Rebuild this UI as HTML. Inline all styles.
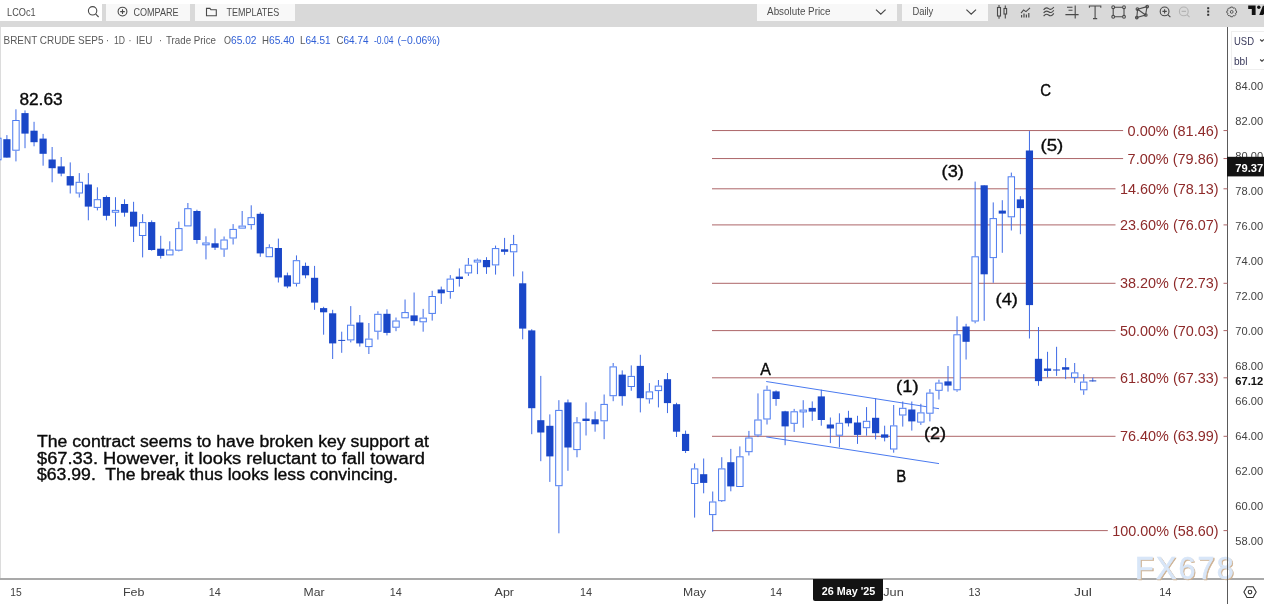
<!DOCTYPE html>
<html><head><meta charset="utf-8"><title>BRENT CRUDE SEP5 chart</title>
<style>
html,body{margin:0;padding:0;background:#fff;}
body{width:1264px;height:604px;position:relative;overflow:hidden;font-family:"Liberation Sans",sans-serif;}
.abs{position:absolute;}
#tb{left:0;top:4px;width:1264px;height:22.6px;background:#d9d9d9;}
.btn{position:absolute;top:4px;height:17px;background:#f8f8f8;}
.t{position:absolute;white-space:nowrap;color:#4d4d4d;font-size:10px;line-height:12px;}
.tn{position:absolute;white-space:nowrap;color:#4d4d4d;font-size:9.5px;line-height:12px;letter-spacing:-0.4px;}
.info{position:absolute;left:3.5px;top:34px;font-size:10px;line-height:12px;color:#5a5a5a;white-space:pre;}
.info b{font-weight:normal;color:#2f5fd6;}
svg{position:absolute;left:0;top:0;}
</style></head><body>
<div class="abs" id="tb"></div>
<div class="btn" style="left:0;width:102px;background:#fff;"></div>
<div class="btn" style="left:106px;width:84px;"></div>
<div class="btn" style="left:194.5px;width:100px;"></div>
<div class="btn" style="left:757px;width:139.9px;"></div>
<div class="btn" style="left:902px;width:86.2px;"></div>
<div class="abs" style="left:1231px;top:31px;width:40px;height:39px;border:1px solid #efefef;box-sizing:border-box;"></div>

<svg width="1264" height="604" viewBox="0 0 1264 604">
<g fill="none" stroke="#4a4a4a" stroke-width="1.1">
<circle cx="92.6" cy="10.8" r="4.2"/><path d="M95.8 14.2L98.6 17"/>
<circle cx="122.5" cy="11.6" r="4.4"/><path d="M120.2 11.6h4.6M122.5 9.3v4.6"/>
<path d="M206.5 8.4h3.4l1 1.3h5.400v6.100h-9.800z"/>
<path d="M876 9.6l4.8 4.6l4.8-4.6M966.4 9.6l4.8 4.6l4.8-4.6" stroke-width="1.2"/>
<rect x="997.5" y="7.5" width="3" height="8.5"/><path d="M999 5v2.5M999 16v2.7"/>
<rect x="1004" y="8.5" width="2.6" height="5.5"/><path d="M1005.3 5.4v3M1005.3 14v4.6"/>
<path d="M1021 13.2l2.6-3.2l2.4 1.6l4-3.8"/><path d="M1021.6 15v2.6M1024 13.6v4M1026.4 14.6v3M1028.8 13v4.6" stroke-width="1.2"/>
<path d="M1043.6 9.8c1.8-2.4 3.4-2.4 5 -1.2s3.2 1.2 5.2-1.6M1043.6 13c1.8-2.4 3.4-2.4 5-1.2s3.2 1.2 5.2-1.6M1043.6 16.2c1.8-2.4 3.4-2.4 5-1.2s3.2 1.2 5.2-1.6"/>
<path d="M1067 7.2h5.5M1068.5 10.2h4M1065.4 14.6h13.2M1075.2 5.4v13.2"/>
<path d="M1089.4 7.800v-1.800h11.400v1.800M1095.1 6v12.600M1093 18.600h4.200" stroke-width="1.100"/>
<path d="M1114.5 7.2h8.2M1114.5 16.8h8.2M1113.2 8.6v6.8M1124 8.6v6.8"/>
<circle cx="1113.2" cy="7.2" r="1.4"/><circle cx="1124" cy="7.2" r="1.4"/><circle cx="1113.2" cy="16.8" r="1.4"/><circle cx="1124" cy="16.8" r="1.4"/>
<path d="M1137.6 9.2l9.4-2.6l-1.4 8.4l-8.8 2.6zM1137.6 9.2l8 5.8"/>
<circle cx="1137.4" cy="9" r="1.3"/><circle cx="1147.2" cy="6.6" r="1.3"/><circle cx="1145.8" cy="15" r="1.3"/><circle cx="1136.8" cy="17.6" r="1.3"/>
<circle cx="1164.6" cy="11.4" r="4.4"/><path d="M1167.8 14.6l2.6 2.6M1162.4 11.4h4.4M1164.6 9.2v4.4"/>
<g stroke="#b4b4b4"><circle cx="1183.8" cy="11.4" r="4.4"/><path d="M1187 14.6l2.6 2.6M1181.6 11.4h4.4"/></g>
<circle cx="1231.7" cy="11.9" r="1.4" stroke-width="0.9"/>
<path d="M1230.72 7.05L1232.68 7.05L1232.93 7.94L1233.64 8.23L1234.44 7.77L1235.83 9.16L1235.37 9.96L1235.66 10.67L1236.55 10.92L1236.55 12.88L1235.66 13.13L1235.37 13.84L1235.83 14.64L1234.44 16.03L1233.64 15.57L1232.93 15.86L1232.68 16.75L1230.72 16.75L1230.47 15.86L1229.76 15.57L1228.96 16.03L1227.57 14.64L1228.03 13.84L1227.74 13.13L1226.85 12.88L1226.85 10.92L1227.74 10.67L1228.03 9.96L1227.57 9.16L1228.96 7.77L1229.76 8.23L1230.47 7.94z" stroke-width="0.9" stroke-linejoin="round"/>
</g>
<g fill="#333"><rect x="1207.2" y="7.2" width="2" height="2"/><rect x="1207.2" y="10.5" width="2" height="2"/><rect x="1207.200" y="13.800" width="2" height="2"/></g>
<path d="M1248.2 5.600H1255.6V14.900H1251.8V8.900H1248.2z" fill="#111"/><circle cx="1258.800" cy="7.200" r="1.700" fill="#111"/><path d="M1259.2 14.900L1262.900 5.800H1267L1263.300 14.900z" fill="#111"/>
<path d="M1260.200 39.500l1.800 1.800l1.800-1.800M1260.200 59.500l1.800 1.800l1.800-1.800" fill="none" stroke="#333" stroke-width="1.100"/>

<g font-family="'Liberation Sans',sans-serif" fill="#4d4d4d">
<text x="7.1" y="15.5" font-size="10.5" textLength="28.5" lengthAdjust="spacingAndGlyphs">LCOc1</text>
<text x="133.5" y="15.5" font-size="10.5" textLength="45.1" lengthAdjust="spacingAndGlyphs">COMPARE</text>
<text x="226.6" y="15.5" font-size="10.5" textLength="52.7" lengthAdjust="spacingAndGlyphs">TEMPLATES</text>
<text x="767.1" y="15.4" font-size="10.1" textLength="63.4" lengthAdjust="spacingAndGlyphs">Absolute Price</text>
<text x="912.4" y="15.4" font-size="10.1" textLength="20.9" lengthAdjust="spacingAndGlyphs">Daily</text>
</g>
<g font-family="'Liberation Sans',sans-serif" font-size="10.2">
<text x="3.5" y="44.1" fill="#5a5a5a" textLength="100.0" lengthAdjust="spacingAndGlyphs">BRENT CRUDE SEP5</text>
<text x="106" y="44.1" fill="#5a5a5a" textLength="3" lengthAdjust="spacingAndGlyphs">·</text>
<text x="114" y="44.1" fill="#5a5a5a" textLength="11" lengthAdjust="spacingAndGlyphs">1D</text>
<text x="128.5" y="44.1" fill="#5a5a5a" textLength="3.0" lengthAdjust="spacingAndGlyphs">·</text>
<text x="136" y="44.1" fill="#5a5a5a" textLength="16.5" lengthAdjust="spacingAndGlyphs">IEU</text>
<text x="159" y="44.1" fill="#5a5a5a" textLength="3" lengthAdjust="spacingAndGlyphs">·</text>
<text x="166" y="44.1" fill="#5a5a5a" textLength="50" lengthAdjust="spacingAndGlyphs">Trade Price</text>
<text x="224" y="44.1" fill="#5a5a5a" textLength="7" lengthAdjust="spacingAndGlyphs">O</text>
<text x="231" y="44.1" fill="#2f5fd6" textLength="25.5" lengthAdjust="spacingAndGlyphs">65.02</text>
<text x="262" y="44.1" fill="#5a5a5a" textLength="7" lengthAdjust="spacingAndGlyphs">H</text>
<text x="269" y="44.1" fill="#2f5fd6" textLength="25.5" lengthAdjust="spacingAndGlyphs">65.40</text>
<text x="300" y="44.1" fill="#5a5a5a" textLength="5.5" lengthAdjust="spacingAndGlyphs">L</text>
<text x="305.5" y="44.1" fill="#2f5fd6" textLength="25.0" lengthAdjust="spacingAndGlyphs">64.51</text>
<text x="336.5" y="44.1" fill="#5a5a5a" textLength="7.0" lengthAdjust="spacingAndGlyphs">C</text>
<text x="343.5" y="44.1" fill="#2f5fd6" textLength="25.0" lengthAdjust="spacingAndGlyphs">64.74</text>
<text x="374" y="44.1" fill="#2f5fd6" textLength="19.5" lengthAdjust="spacingAndGlyphs">-0.04</text>
<text x="397.5" y="44.1" fill="#2f5fd6" textLength="42.5" lengthAdjust="spacingAndGlyphs">(−0.06%)</text>
</g>
<g font-family="'Liberation Sans',sans-serif" font-size="11" fill="#3a3a5c"><text x="1234" y="45" textLength="20" lengthAdjust="spacingAndGlyphs">USD</text><text x="1234" y="65" textLength="13.5" lengthAdjust="spacingAndGlyphs">bbl</text></g>
<rect x="0" y="578.1" width="1264" height="1.8" fill="#a0a0a0"/>
<g font-family="'Liberation Sans',sans-serif" font-size="30.500" letter-spacing="2"><text x="1136.3" y="580.200" fill="#cdb090" stroke="#cdb090" stroke-width="0.5" textLength="100.5" lengthAdjust="spacing">FX678</text><text x="1135.1" y="579.300" fill="#d8e6f8" stroke="#d8e6f8" stroke-width="0.6" textLength="100.5" lengthAdjust="spacing">FX678</text></g>
<rect x="0" y="27" width="1" height="551" fill="#dcdcdc"/>
<rect x="1227" y="27" width="1" height="577" fill="#5a5a5a"/>
<g font-family="'Liberation Sans',sans-serif" font-size="14.5" fill="#8e2a2a" text-anchor="end">
<rect x="712" y="130.05" width="411.1" height="1" fill="#ad6669"/>
<rect x="1223.500" y="130.05" width="4" height="1" fill="#ad6669"/>
<text x="1218.6" y="135.5" textLength="91.0" lengthAdjust="spacingAndGlyphs">0.00% (81.46)</text>
<rect x="712" y="158.05" width="411.1" height="1" fill="#ad6669"/>
<rect x="1223.500" y="158.05" width="4" height="1" fill="#ad6669"/>
<text x="1218.6" y="163.5" textLength="91.0" lengthAdjust="spacingAndGlyphs">7.00% (79.86)</text>
<rect x="712" y="188.3" width="403.5" height="1" fill="#ad6669"/>
<rect x="1223.500" y="188.3" width="4" height="1" fill="#ad6669"/>
<text x="1218.6" y="193.7" textLength="98.6" lengthAdjust="spacingAndGlyphs">14.60% (78.13)</text>
<rect x="712" y="224.4" width="403.5" height="1" fill="#ad6669"/>
<rect x="1223.500" y="224.4" width="4" height="1" fill="#ad6669"/>
<text x="1218.6" y="229.8" textLength="98.6" lengthAdjust="spacingAndGlyphs">23.60% (76.07)</text>
<rect x="712" y="282.8" width="403.5" height="1" fill="#ad6669"/>
<rect x="1223.500" y="282.8" width="4" height="1" fill="#ad6669"/>
<text x="1218.6" y="288.2" textLength="98.6" lengthAdjust="spacingAndGlyphs">38.20% (72.73)</text>
<rect x="712" y="330.1" width="403.5" height="1" fill="#ad6669"/>
<rect x="1223.500" y="330.1" width="4" height="1" fill="#ad6669"/>
<text x="1218.6" y="335.5" textLength="98.6" lengthAdjust="spacingAndGlyphs">50.00% (70.03)</text>
<rect x="712" y="377.3" width="403.5" height="1" fill="#ad6669"/>
<rect x="1223.500" y="377.3" width="4" height="1" fill="#ad6669"/>
<text x="1218.6" y="382.7" textLength="98.6" lengthAdjust="spacingAndGlyphs">61.80% (67.33)</text>
<rect x="712" y="435.8" width="403.5" height="1" fill="#ad6669"/>
<rect x="1223.500" y="435.8" width="4" height="1" fill="#ad6669"/>
<text x="1218.6" y="441.2" textLength="98.6" lengthAdjust="spacingAndGlyphs">76.40% (63.99)</text>
<rect x="712" y="530.1" width="395.8" height="1" fill="#ad6669"/>
<rect x="1223.500" y="530.1" width="4" height="1" fill="#ad6669"/>
<text x="1218.6" y="535.5" textLength="106.3" lengthAdjust="spacingAndGlyphs">100.00% (58.60)</text>
</g>
<path d="M766.2 381.5L939 408.7M766.2 436.9L939 463.6" stroke="#4a7af0" stroke-width="1" fill="none"/>
<rect x="-5.35" y="138.2" width="6.4" height="21.6" fill="#fff" stroke="#4a7af0" stroke-width="1"/>
<path d="M6.90 135.1V157.6" stroke="#3f6be6" stroke-width="1"/>
<rect x="3.30" y="139.2" width="7.2" height="18.4" fill="#1a47c8"/>
<path d="M15.95 109.3V120.0" stroke="#3f6be6" stroke-width="1"/>
<path d="M15.95 150.7V161.4" stroke="#3f6be6" stroke-width="1"/>
<rect x="12.75" y="120.5" width="6.4" height="29.7" fill="#fff" stroke="#4a7af0" stroke-width="1"/>
<path d="M25.00 110.4V148.2" stroke="#3f6be6" stroke-width="1"/>
<rect x="21.40" y="113.1" width="7.2" height="20.5" fill="#1a47c8"/>
<path d="M34.05 121.8V146.3" stroke="#3f6be6" stroke-width="1"/>
<rect x="30.45" y="130.7" width="7.2" height="11.5" fill="#1a47c8"/>
<path d="M43.10 133.9V165.7" stroke="#3f6be6" stroke-width="1"/>
<rect x="39.50" y="138.6" width="7.2" height="15.2" fill="#1a47c8"/>
<path d="M52.14 147.0V182.3" stroke="#3f6be6" stroke-width="1"/>
<rect x="48.54" y="159.5" width="7.2" height="8.7" fill="#1a47c8"/>
<path d="M61.19 157.0V176.3" stroke="#3f6be6" stroke-width="1"/>
<rect x="57.59" y="166.4" width="7.2" height="7.2" fill="#1a47c8"/>
<path d="M70.24 162.4V193.5" stroke="#3f6be6" stroke-width="1"/>
<rect x="66.64" y="176.1" width="7.2" height="9.4" fill="#1a47c8"/>
<path d="M79.29 173.1V181.8" stroke="#3f6be6" stroke-width="1"/>
<path d="M79.29 193.5V197.5" stroke="#3f6be6" stroke-width="1"/>
<rect x="76.09" y="182.3" width="6.4" height="10.7" fill="#fff" stroke="#4a7af0" stroke-width="1"/>
<path d="M88.34 173.1V220.3" stroke="#3f6be6" stroke-width="1"/>
<rect x="84.74" y="184.5" width="7.2" height="22.1" fill="#1a47c8"/>
<path d="M97.39 187.3V199.2" stroke="#3f6be6" stroke-width="1"/>
<path d="M97.39 207.9V210.4" stroke="#3f6be6" stroke-width="1"/>
<rect x="94.19" y="199.7" width="6.4" height="7.7" fill="#fff" stroke="#4a7af0" stroke-width="1"/>
<path d="M106.44 195.5V220.3" stroke="#3f6be6" stroke-width="1"/>
<rect x="102.84" y="197.0" width="7.2" height="18.8" fill="#1a47c8"/>
<path d="M115.49 197.2V209.9" stroke="#3f6be6" stroke-width="1"/>
<path d="M115.49 212.4V226.5" stroke="#3f6be6" stroke-width="1"/>
<rect x="112.29" y="210.4" width="6.4" height="1.8" fill="#fff" stroke="#4a7af0" stroke-width="1"/>
<path d="M124.54 199.3V216.7" stroke="#3f6be6" stroke-width="1"/>
<rect x="120.94" y="204.0" width="7.2" height="8.7" fill="#1a47c8"/>
<path d="M133.59 201.8V242.0" stroke="#3f6be6" stroke-width="1"/>
<rect x="129.99" y="211.7" width="7.2" height="14.9" fill="#1a47c8"/>
<path d="M142.63 214.2V222.1" stroke="#3f6be6" stroke-width="1"/>
<path d="M142.63 236.0V257.4" stroke="#3f6be6" stroke-width="1"/>
<rect x="139.44" y="222.6" width="6.4" height="12.9" fill="#fff" stroke="#4a7af0" stroke-width="1"/>
<path d="M151.68 220.4V250.7" stroke="#3f6be6" stroke-width="1"/>
<rect x="148.08" y="222.1" width="7.2" height="27.9" fill="#1a47c8"/>
<path d="M160.73 235.8V258.6" stroke="#3f6be6" stroke-width="1"/>
<rect x="157.13" y="248.7" width="7.2" height="7.2" fill="#1a47c8"/>
<path d="M169.78 241.3V249.5" stroke="#3f6be6" stroke-width="1"/>
<rect x="166.58" y="250.0" width="6.4" height="4.9" fill="#fff" stroke="#4a7af0" stroke-width="1"/>
<path d="M178.83 221.6V228.1" stroke="#3f6be6" stroke-width="1"/>
<path d="M178.83 250.7V251.4" stroke="#3f6be6" stroke-width="1"/>
<rect x="175.63" y="228.6" width="6.4" height="21.6" fill="#fff" stroke="#4a7af0" stroke-width="1"/>
<path d="M187.88 203.0V208.2" stroke="#3f6be6" stroke-width="1"/>
<rect x="184.68" y="208.7" width="6.4" height="17.2" fill="#fff" stroke="#4a7af0" stroke-width="1"/>
<path d="M196.93 209.7V243.7" stroke="#3f6be6" stroke-width="1"/>
<rect x="193.33" y="211.0" width="7.2" height="29.0" fill="#1a47c8"/>
<path d="M205.98 236.3V242.5" stroke="#3f6be6" stroke-width="1"/>
<path d="M205.98 244.2V259.4" stroke="#3f6be6" stroke-width="1"/>
<rect x="202.78" y="243.0" width="6.4" height="1.8" fill="#fff" stroke="#4a7af0" stroke-width="1"/>
<path d="M215.03 228.4V250.0" stroke="#3f6be6" stroke-width="1"/>
<rect x="211.43" y="243.3" width="7.2" height="4.4" fill="#1a47c8"/>
<path d="M224.08 236.5V239.5" stroke="#3f6be6" stroke-width="1"/>
<path d="M224.08 249.5V256.9" stroke="#3f6be6" stroke-width="1"/>
<rect x="220.88" y="240.0" width="6.4" height="9.0" fill="#fff" stroke="#4a7af0" stroke-width="1"/>
<path d="M233.12 224.1V228.9" stroke="#3f6be6" stroke-width="1"/>
<path d="M233.12 238.5V244.5" stroke="#3f6be6" stroke-width="1"/>
<rect x="229.93" y="229.4" width="6.4" height="8.6" fill="#fff" stroke="#4a7af0" stroke-width="1"/>
<path d="M242.17 211.0V225.6" stroke="#3f6be6" stroke-width="1"/>
<rect x="238.97" y="226.1" width="6.4" height="2.0" fill="#fff" stroke="#4a7af0" stroke-width="1"/>
<path d="M251.22 205.3V217.2" stroke="#3f6be6" stroke-width="1"/>
<path d="M251.22 225.1V229.6" stroke="#3f6be6" stroke-width="1"/>
<rect x="248.02" y="217.7" width="6.4" height="6.9" fill="#fff" stroke="#4a7af0" stroke-width="1"/>
<path d="M260.27 212.3V256.8" stroke="#3f6be6" stroke-width="1"/>
<rect x="256.67" y="213.8" width="7.2" height="39.6" fill="#1a47c8"/>
<path d="M269.32 244.3V247.2" stroke="#3f6be6" stroke-width="1"/>
<rect x="266.12" y="247.7" width="6.4" height="9.0" fill="#fff" stroke="#4a7af0" stroke-width="1"/>
<path d="M278.37 238.6V282.5" stroke="#3f6be6" stroke-width="1"/>
<rect x="274.77" y="248.0" width="7.2" height="29.5" fill="#1a47c8"/>
<path d="M287.42 272.6V288.2" stroke="#3f6be6" stroke-width="1"/>
<rect x="283.82" y="275.3" width="7.2" height="11.2" fill="#1a47c8"/>
<path d="M296.47 255.4V260.2" stroke="#3f6be6" stroke-width="1"/>
<path d="M296.47 283.8V286.5" stroke="#3f6be6" stroke-width="1"/>
<rect x="293.27" y="260.7" width="6.4" height="22.6" fill="#fff" stroke="#4a7af0" stroke-width="1"/>
<path d="M305.52 262.6V278.3" stroke="#3f6be6" stroke-width="1"/>
<rect x="301.92" y="265.9" width="7.2" height="9.4" fill="#1a47c8"/>
<path d="M314.57 265.9V309.8" stroke="#3f6be6" stroke-width="1"/>
<rect x="310.97" y="277.8" width="7.2" height="24.8" fill="#1a47c8"/>
<path d="M323.61 306.8V334.7" stroke="#3f6be6" stroke-width="1"/>
<rect x="320.01" y="308.1" width="7.2" height="4.2" fill="#1a47c8"/>
<path d="M332.66 309.8V359.0" stroke="#3f6be6" stroke-width="1"/>
<rect x="329.06" y="313.3" width="7.2" height="30.1" fill="#1a47c8"/>
<path d="M341.71 331.7V352.8" stroke="#3f6be6" stroke-width="1"/>
<path d="M338.21 340.4H345.21" stroke="#1a47c8" stroke-width="1"/>
<path d="M350.76 306.1V324.7" stroke="#3f6be6" stroke-width="1"/>
<path d="M350.76 340.4V342.4" stroke="#3f6be6" stroke-width="1"/>
<rect x="347.56" y="325.2" width="6.4" height="14.7" fill="#fff" stroke="#4a7af0" stroke-width="1"/>
<path d="M359.81 315.0V346.6" stroke="#3f6be6" stroke-width="1"/>
<rect x="356.21" y="322.5" width="7.2" height="20.9" fill="#1a47c8"/>
<path d="M368.86 323.0V338.6" stroke="#3f6be6" stroke-width="1"/>
<path d="M368.86 347.1V354.0" stroke="#3f6be6" stroke-width="1"/>
<rect x="365.66" y="339.1" width="6.4" height="7.5" fill="#fff" stroke="#4a7af0" stroke-width="1"/>
<path d="M377.91 311.3V313.8" stroke="#3f6be6" stroke-width="1"/>
<path d="M377.91 331.7V339.6" stroke="#3f6be6" stroke-width="1"/>
<rect x="374.71" y="314.3" width="6.4" height="16.9" fill="#fff" stroke="#4a7af0" stroke-width="1"/>
<path d="M386.96 309.3V335.4" stroke="#3f6be6" stroke-width="1"/>
<rect x="383.36" y="313.8" width="7.2" height="19.1" fill="#1a47c8"/>
<path d="M396.01 317.5V320.5" stroke="#3f6be6" stroke-width="1"/>
<path d="M396.01 327.7V331.2" stroke="#3f6be6" stroke-width="1"/>
<rect x="392.81" y="321.0" width="6.4" height="6.2" fill="#fff" stroke="#4a7af0" stroke-width="1"/>
<path d="M405.06 299.5V312.1" stroke="#3f6be6" stroke-width="1"/>
<rect x="401.86" y="312.6" width="6.4" height="5.2" fill="#fff" stroke="#4a7af0" stroke-width="1"/>
<path d="M414.10 292.5V325.5" stroke="#3f6be6" stroke-width="1"/>
<rect x="410.50" y="315.4" width="7.2" height="5.7" fill="#1a47c8"/>
<path d="M423.15 308.9V317.6" stroke="#3f6be6" stroke-width="1"/>
<path d="M423.15 322.3V331.7" stroke="#3f6be6" stroke-width="1"/>
<rect x="419.95" y="318.1" width="6.4" height="3.7" fill="#fff" stroke="#4a7af0" stroke-width="1"/>
<path d="M432.20 290.8V296.0" stroke="#3f6be6" stroke-width="1"/>
<path d="M432.20 313.9V320.6" stroke="#3f6be6" stroke-width="1"/>
<rect x="429.00" y="296.5" width="6.4" height="16.9" fill="#fff" stroke="#4a7af0" stroke-width="1"/>
<path d="M441.25 286.6V303.9" stroke="#3f6be6" stroke-width="1"/>
<rect x="437.65" y="289.5" width="7.2" height="3.8" fill="#1a47c8"/>
<path d="M450.30 275.1V278.6" stroke="#3f6be6" stroke-width="1"/>
<path d="M450.30 292.0V298.7" stroke="#3f6be6" stroke-width="1"/>
<rect x="447.10" y="279.1" width="6.4" height="12.4" fill="#fff" stroke="#4a7af0" stroke-width="1"/>
<path d="M459.35 268.4V286.6" stroke="#3f6be6" stroke-width="1"/>
<rect x="455.75" y="276.6" width="7.2" height="2.4" fill="#1a47c8"/>
<path d="M468.40 258.0V264.7" stroke="#3f6be6" stroke-width="1"/>
<path d="M468.40 273.4V275.9" stroke="#3f6be6" stroke-width="1"/>
<rect x="465.20" y="265.2" width="6.4" height="7.7" fill="#fff" stroke="#4a7af0" stroke-width="1"/>
<path d="M477.45 258.5V259.7" stroke="#3f6be6" stroke-width="1"/>
<path d="M477.45 262.5V274.1" stroke="#3f6be6" stroke-width="1"/>
<rect x="474.25" y="260.2" width="6.4" height="1.8" fill="#fff" stroke="#4a7af0" stroke-width="1"/>
<path d="M486.50 257.2V273.9" stroke="#3f6be6" stroke-width="1"/>
<rect x="482.90" y="260.0" width="7.2" height="7.2" fill="#1a47c8"/>
<path d="M495.55 245.6V248.1" stroke="#3f6be6" stroke-width="1"/>
<path d="M495.55 265.4V274.6" stroke="#3f6be6" stroke-width="1"/>
<rect x="492.35" y="248.6" width="6.4" height="16.3" fill="#fff" stroke="#4a7af0" stroke-width="1"/>
<path d="M504.59 237.9V254.8" stroke="#3f6be6" stroke-width="1"/>
<rect x="500.99" y="249.3" width="7.2" height="2.5" fill="#1a47c8"/>
<path d="M513.64 234.9V244.1" stroke="#3f6be6" stroke-width="1"/>
<path d="M513.64 252.3V276.4" stroke="#3f6be6" stroke-width="1"/>
<rect x="510.44" y="244.6" width="6.4" height="7.2" fill="#fff" stroke="#4a7af0" stroke-width="1"/>
<path d="M522.69 271.4V339.3" stroke="#3f6be6" stroke-width="1"/>
<rect x="519.09" y="283.3" width="7.2" height="45.3" fill="#1a47c8"/>
<path d="M531.74 329.2V434.2" stroke="#3f6be6" stroke-width="1"/>
<rect x="528.14" y="330.4" width="7.2" height="77.8" fill="#1a47c8"/>
<path d="M540.79 375.9V461.2" stroke="#3f6be6" stroke-width="1"/>
<rect x="537.19" y="420.2" width="7.2" height="12.3" fill="#1a47c8"/>
<path d="M549.84 414.4V481.9" stroke="#3f6be6" stroke-width="1"/>
<rect x="546.24" y="425.8" width="7.2" height="30.6" fill="#1a47c8"/>
<path d="M558.89 400.2V409.9" stroke="#3f6be6" stroke-width="1"/>
<path d="M558.89 486.2V533.3" stroke="#3f6be6" stroke-width="1"/>
<rect x="555.69" y="410.4" width="6.4" height="75.3" fill="#fff" stroke="#4a7af0" stroke-width="1"/>
<path d="M567.94 399.5V470.8" stroke="#3f6be6" stroke-width="1"/>
<rect x="564.34" y="402.4" width="7.2" height="45.1" fill="#1a47c8"/>
<path d="M576.99 417.1V422.3" stroke="#3f6be6" stroke-width="1"/>
<path d="M576.99 450.1V457.3" stroke="#3f6be6" stroke-width="1"/>
<rect x="573.79" y="422.8" width="6.4" height="26.8" fill="#fff" stroke="#4a7af0" stroke-width="1"/>
<path d="M586.04 402.4V435.5" stroke="#3f6be6" stroke-width="1"/>
<rect x="582.44" y="418.6" width="7.2" height="2.4" fill="#1a47c8"/>
<path d="M595.08 411.4V431.7" stroke="#3f6be6" stroke-width="1"/>
<rect x="591.48" y="419.3" width="7.2" height="5.0" fill="#1a47c8"/>
<path d="M604.13 394.5V403.9" stroke="#3f6be6" stroke-width="1"/>
<path d="M604.13 421.3V439.2" stroke="#3f6be6" stroke-width="1"/>
<rect x="600.93" y="404.4" width="6.4" height="16.4" fill="#fff" stroke="#4a7af0" stroke-width="1"/>
<path d="M613.18 363.0V366.4" stroke="#3f6be6" stroke-width="1"/>
<path d="M613.18 396.2V401.2" stroke="#3f6be6" stroke-width="1"/>
<rect x="609.98" y="366.9" width="6.4" height="28.8" fill="#fff" stroke="#4a7af0" stroke-width="1"/>
<path d="M622.23 370.4V405.7" stroke="#3f6be6" stroke-width="1"/>
<rect x="618.63" y="374.6" width="7.2" height="21.6" fill="#1a47c8"/>
<path d="M631.28 365.4V375.9" stroke="#3f6be6" stroke-width="1"/>
<path d="M631.28 387.0V390.8" stroke="#3f6be6" stroke-width="1"/>
<rect x="628.08" y="376.4" width="6.4" height="10.1" fill="#fff" stroke="#4a7af0" stroke-width="1"/>
<path d="M640.33 354.8V412.4" stroke="#3f6be6" stroke-width="1"/>
<rect x="636.73" y="365.9" width="7.2" height="32.3" fill="#1a47c8"/>
<path d="M649.38 383.1V391.4" stroke="#3f6be6" stroke-width="1"/>
<path d="M649.38 399.3V403.6" stroke="#3f6be6" stroke-width="1"/>
<rect x="646.18" y="391.9" width="6.4" height="6.9" fill="#fff" stroke="#4a7af0" stroke-width="1"/>
<path d="M658.43 380.0V385.6" stroke="#3f6be6" stroke-width="1"/>
<path d="M658.43 391.1V407.4" stroke="#3f6be6" stroke-width="1"/>
<rect x="655.23" y="386.1" width="6.4" height="4.5" fill="#fff" stroke="#4a7af0" stroke-width="1"/>
<path d="M667.48 373.0V413.1" stroke="#3f6be6" stroke-width="1"/>
<rect x="663.88" y="379.2" width="7.2" height="23.9" fill="#1a47c8"/>
<path d="M676.53 402.8V437.0" stroke="#3f6be6" stroke-width="1"/>
<rect x="672.93" y="404.2" width="7.2" height="27.5" fill="#1a47c8"/>
<path d="M685.57 430.6V453.0" stroke="#3f6be6" stroke-width="1"/>
<rect x="681.97" y="433.9" width="7.2" height="17.1" fill="#1a47c8"/>
<path d="M694.62 463.4V468.4" stroke="#3f6be6" stroke-width="1"/>
<path d="M694.62 484.0V517.6" stroke="#3f6be6" stroke-width="1"/>
<rect x="691.42" y="468.9" width="6.4" height="14.6" fill="#fff" stroke="#4a7af0" stroke-width="1"/>
<path d="M703.67 458.5V493.3" stroke="#3f6be6" stroke-width="1"/>
<rect x="700.07" y="474.2" width="7.2" height="8.7" fill="#1a47c8"/>
<path d="M712.72 491.5V501.5" stroke="#3f6be6" stroke-width="1"/>
<path d="M712.72 515.1V531.7" stroke="#3f6be6" stroke-width="1"/>
<rect x="709.52" y="502.0" width="6.4" height="12.6" fill="#fff" stroke="#4a7af0" stroke-width="1"/>
<path d="M721.77 457.2V468.4" stroke="#3f6be6" stroke-width="1"/>
<path d="M721.77 501.2V502.0" stroke="#3f6be6" stroke-width="1"/>
<rect x="718.57" y="468.9" width="6.4" height="31.8" fill="#fff" stroke="#4a7af0" stroke-width="1"/>
<path d="M730.82 448.9V491.3" stroke="#3f6be6" stroke-width="1"/>
<rect x="727.22" y="462.2" width="7.2" height="24.2" fill="#1a47c8"/>
<path d="M739.87 446.4V456.3" stroke="#3f6be6" stroke-width="1"/>
<rect x="736.67" y="456.8" width="6.4" height="29.7" fill="#fff" stroke="#4a7af0" stroke-width="1"/>
<path d="M748.92 430.9V437.5" stroke="#3f6be6" stroke-width="1"/>
<path d="M748.92 452.2V455.5" stroke="#3f6be6" stroke-width="1"/>
<rect x="745.72" y="438.0" width="6.4" height="13.7" fill="#fff" stroke="#4a7af0" stroke-width="1"/>
<path d="M757.97 393.4V419.5" stroke="#3f6be6" stroke-width="1"/>
<path d="M757.97 435.5V437.1" stroke="#3f6be6" stroke-width="1"/>
<rect x="754.77" y="420.0" width="6.4" height="15.0" fill="#fff" stroke="#4a7af0" stroke-width="1"/>
<path d="M767.02 385.7V389.7" stroke="#3f6be6" stroke-width="1"/>
<path d="M767.02 419.5V424.5" stroke="#3f6be6" stroke-width="1"/>
<rect x="763.82" y="390.2" width="6.4" height="28.8" fill="#fff" stroke="#4a7af0" stroke-width="1"/>
<path d="M776.06 390.4V405.8" stroke="#3f6be6" stroke-width="1"/>
<rect x="772.46" y="391.4" width="7.2" height="7.6" fill="#1a47c8"/>
<path d="M785.11 410.8V445.2" stroke="#3f6be6" stroke-width="1"/>
<rect x="781.51" y="411.3" width="7.2" height="15.1" fill="#1a47c8"/>
<path d="M794.16 408.9V411.3" stroke="#3f6be6" stroke-width="1"/>
<path d="M794.16 423.8V431.9" stroke="#3f6be6" stroke-width="1"/>
<rect x="790.96" y="411.8" width="6.4" height="11.5" fill="#fff" stroke="#4a7af0" stroke-width="1"/>
<path d="M803.21 400.2V409.6" stroke="#3f6be6" stroke-width="1"/>
<path d="M803.21 410.8V427.7" stroke="#3f6be6" stroke-width="1"/>
<rect x="800.01" y="410.1" width="6.4" height="1.8" fill="#fff" stroke="#4a7af0" stroke-width="1"/>
<path d="M812.26 401.4V420.8" stroke="#3f6be6" stroke-width="1"/>
<rect x="808.66" y="407.9" width="7.2" height="3.7" fill="#1a47c8"/>
<path d="M821.31 389.7V425.7" stroke="#3f6be6" stroke-width="1"/>
<rect x="817.71" y="396.4" width="7.2" height="23.6" fill="#1a47c8"/>
<path d="M830.36 417.5V443.1" stroke="#3f6be6" stroke-width="1"/>
<rect x="826.76" y="424.5" width="7.2" height="4.0" fill="#1a47c8"/>
<path d="M839.41 413.3V422.8" stroke="#3f6be6" stroke-width="1"/>
<path d="M839.41 435.7V447.3" stroke="#3f6be6" stroke-width="1"/>
<rect x="836.21" y="423.3" width="6.4" height="11.9" fill="#fff" stroke="#4a7af0" stroke-width="1"/>
<path d="M848.46 410.8V426.5" stroke="#3f6be6" stroke-width="1"/>
<rect x="844.86" y="417.8" width="7.2" height="5.5" fill="#1a47c8"/>
<path d="M857.51 415.8V443.9" stroke="#3f6be6" stroke-width="1"/>
<rect x="853.91" y="422.5" width="7.2" height="12.4" fill="#1a47c8"/>
<path d="M866.55 407.1V420.8" stroke="#3f6be6" stroke-width="1"/>
<path d="M866.55 428.2V435.7" stroke="#3f6be6" stroke-width="1"/>
<rect x="863.35" y="421.3" width="6.4" height="6.4" fill="#fff" stroke="#4a7af0" stroke-width="1"/>
<path d="M875.60 398.4V439.4" stroke="#3f6be6" stroke-width="1"/>
<rect x="872.00" y="417.8" width="7.2" height="15.4" fill="#1a47c8"/>
<path d="M884.65 425.7V441.4" stroke="#3f6be6" stroke-width="1"/>
<rect x="881.05" y="434.4" width="7.2" height="3.3" fill="#1a47c8"/>
<path d="M893.70 405.0V425.4" stroke="#3f6be6" stroke-width="1"/>
<path d="M893.70 449.5V452.7" stroke="#3f6be6" stroke-width="1"/>
<rect x="890.50" y="425.9" width="6.4" height="23.1" fill="#fff" stroke="#4a7af0" stroke-width="1"/>
<path d="M902.75 401.5V407.8" stroke="#3f6be6" stroke-width="1"/>
<path d="M902.75 415.5V426.6" stroke="#3f6be6" stroke-width="1"/>
<rect x="899.55" y="408.3" width="6.4" height="6.7" fill="#fff" stroke="#4a7af0" stroke-width="1"/>
<path d="M911.80 401.5V430.6" stroke="#3f6be6" stroke-width="1"/>
<rect x="908.20" y="409.5" width="7.2" height="11.9" fill="#1a47c8"/>
<path d="M920.85 403.8V412.4" stroke="#3f6be6" stroke-width="1"/>
<path d="M920.85 422.6V424.9" stroke="#3f6be6" stroke-width="1"/>
<rect x="917.65" y="412.9" width="6.4" height="9.2" fill="#fff" stroke="#4a7af0" stroke-width="1"/>
<path d="M929.90 389.1V392.6" stroke="#3f6be6" stroke-width="1"/>
<path d="M929.90 413.7V421.4" stroke="#3f6be6" stroke-width="1"/>
<rect x="926.70" y="393.1" width="6.4" height="20.1" fill="#fff" stroke="#4a7af0" stroke-width="1"/>
<path d="M938.95 379.7V382.6" stroke="#3f6be6" stroke-width="1"/>
<path d="M938.95 390.8V399.5" stroke="#3f6be6" stroke-width="1"/>
<rect x="935.75" y="383.1" width="6.4" height="7.2" fill="#fff" stroke="#4a7af0" stroke-width="1"/>
<path d="M948.00 366.0V391.6" stroke="#3f6be6" stroke-width="1"/>
<rect x="944.40" y="381.4" width="7.2" height="4.2" fill="#1a47c8"/>
<path d="M957.04 316.3V334.3" stroke="#3f6be6" stroke-width="1"/>
<path d="M957.04 390.3V391.8" stroke="#3f6be6" stroke-width="1"/>
<rect x="953.84" y="334.8" width="6.4" height="55.0" fill="#fff" stroke="#4a7af0" stroke-width="1"/>
<path d="M966.09 323.8V359.5" stroke="#3f6be6" stroke-width="1"/>
<rect x="962.49" y="326.5" width="7.2" height="15.3" fill="#1a47c8"/>
<path d="M975.14 181.6V256.3" stroke="#3f6be6" stroke-width="1"/>
<path d="M975.14 321.5V323.3" stroke="#3f6be6" stroke-width="1"/>
<rect x="971.94" y="256.8" width="6.4" height="64.2" fill="#fff" stroke="#4a7af0" stroke-width="1"/>
<path d="M984.19 185.3V320.8" stroke="#3f6be6" stroke-width="1"/>
<rect x="980.59" y="185.3" width="7.2" height="89.0" fill="#1a47c8"/>
<path d="M993.24 202.4V218.1" stroke="#3f6be6" stroke-width="1"/>
<path d="M993.24 258.1V282.8" stroke="#3f6be6" stroke-width="1"/>
<rect x="990.04" y="218.6" width="6.4" height="39.0" fill="#fff" stroke="#4a7af0" stroke-width="1"/>
<path d="M1002.29 200.2V252.8" stroke="#3f6be6" stroke-width="1"/>
<rect x="998.69" y="210.6" width="7.2" height="3.0" fill="#1a47c8"/>
<path d="M1011.34 172.6V176.3" stroke="#3f6be6" stroke-width="1"/>
<path d="M1011.34 217.3V230.5" stroke="#3f6be6" stroke-width="1"/>
<rect x="1008.14" y="176.8" width="6.4" height="40.0" fill="#fff" stroke="#4a7af0" stroke-width="1"/>
<path d="M1020.39 196.2V234.2" stroke="#3f6be6" stroke-width="1"/>
<rect x="1016.79" y="199.4" width="7.2" height="8.7" fill="#1a47c8"/>
<path d="M1029.44 131.1V338.5" stroke="#3f6be6" stroke-width="1"/>
<rect x="1025.84" y="150.5" width="7.2" height="154.6" fill="#1a47c8"/>
<path d="M1038.49 327.0V385.8" stroke="#3f6be6" stroke-width="1"/>
<rect x="1034.89" y="358.8" width="7.2" height="22.3" fill="#1a47c8"/>
<path d="M1047.54 351.8V377.4" stroke="#3f6be6" stroke-width="1"/>
<rect x="1043.94" y="368.5" width="7.2" height="2.4" fill="#1a47c8"/>
<path d="M1056.58 346.8V375.9" stroke="#3f6be6" stroke-width="1"/>
<path d="M1053.08 370.0H1060.08" stroke="#1a47c8" stroke-width="1"/>
<path d="M1065.63 358.0V379.1" stroke="#3f6be6" stroke-width="1"/>
<rect x="1062.03" y="367.2" width="7.2" height="2.5" fill="#1a47c8"/>
<path d="M1074.68 363.0V372.4" stroke="#3f6be6" stroke-width="1"/>
<path d="M1074.68 377.9V382.9" stroke="#3f6be6" stroke-width="1"/>
<rect x="1071.48" y="372.9" width="6.4" height="4.5" fill="#fff" stroke="#4a7af0" stroke-width="1"/>
<path d="M1083.73 374.2V381.6" stroke="#3f6be6" stroke-width="1"/>
<path d="M1083.73 390.3V394.8" stroke="#3f6be6" stroke-width="1"/>
<rect x="1080.53" y="382.1" width="6.4" height="7.7" fill="#fff" stroke="#4a7af0" stroke-width="1"/>
<path d="M1092.78 377.9V381.6" stroke="#3f6be6" stroke-width="1"/>
<path d="M1089.28 380.9H1096.28" stroke="#1a47c8" stroke-width="1"/>
<g font-family="'Liberation Sans',sans-serif" fill="#0a0a0a" stroke="#0a0a0a" stroke-width="0.35">
<text x="19.4" y="104.5" font-size="16" textLength="43.2" lengthAdjust="spacingAndGlyphs">82.63</text>
<text x="760.2" y="375.1" font-size="16" textLength="10.6" lengthAdjust="spacingAndGlyphs">A</text>
<text x="896.2" y="482.3" font-size="16" textLength="10" lengthAdjust="spacingAndGlyphs">B</text>
<text x="1040.2" y="95.5" font-size="16" textLength="10.8" lengthAdjust="spacingAndGlyphs">C</text>
<text x="896.1" y="392.0" font-size="16" textLength="22.5" lengthAdjust="spacingAndGlyphs">(1)</text>
<text x="923.9" y="439.0" font-size="16" textLength="22.2" lengthAdjust="spacingAndGlyphs">(2)</text>
<text x="941.6" y="176.8" font-size="16" textLength="22.2" lengthAdjust="spacingAndGlyphs">(3)</text>
<text x="995.6" y="305.1" font-size="16" textLength="22.2" lengthAdjust="spacingAndGlyphs">(4)</text>
<text x="1040.5" y="151.2" font-size="16" textLength="22.7" lengthAdjust="spacingAndGlyphs">(5)</text>
<text x="37" y="447.4" font-size="16" textLength="392" lengthAdjust="spacingAndGlyphs">The contract seems to have broken key support at</text>
<text x="37" y="464" font-size="16" textLength="388" lengthAdjust="spacingAndGlyphs">$67.33. However, it looks reluctant to fall toward</text>
<text x="37" y="480.4" font-size="16" textLength="361" xml:space="preserve" lengthAdjust="spacingAndGlyphs">$63.99.  The break thus looks less convincing.</text>
</g>
<g font-family="'Liberation Sans',sans-serif" font-size="11" fill="#424242">
<text x="1235.3" y="89.8" textLength="27.8" lengthAdjust="spacingAndGlyphs">84.00</text>
<text x="1235.3" y="124.8" textLength="27.8" lengthAdjust="spacingAndGlyphs">82.00</text>
<text x="1235.3" y="159.8" textLength="27.8" lengthAdjust="spacingAndGlyphs">80.00</text>
<text x="1235.3" y="194.8" textLength="27.8" lengthAdjust="spacingAndGlyphs">78.00</text>
<text x="1235.3" y="229.8" textLength="27.8" lengthAdjust="spacingAndGlyphs">76.00</text>
<text x="1235.3" y="264.8" textLength="27.8" lengthAdjust="spacingAndGlyphs">74.00</text>
<text x="1235.3" y="299.8" textLength="27.8" lengthAdjust="spacingAndGlyphs">72.00</text>
<text x="1235.3" y="334.8" textLength="27.8" lengthAdjust="spacingAndGlyphs">70.00</text>
<text x="1235.3" y="369.8" textLength="27.8" lengthAdjust="spacingAndGlyphs">68.00</text>
<text x="1235.3" y="404.8" textLength="27.8" lengthAdjust="spacingAndGlyphs">66.00</text>
<text x="1235.3" y="439.8" textLength="27.8" lengthAdjust="spacingAndGlyphs">64.00</text>
<text x="1235.3" y="474.8" textLength="27.8" lengthAdjust="spacingAndGlyphs">62.00</text>
<text x="1235.3" y="509.8" textLength="27.8" lengthAdjust="spacingAndGlyphs">60.00</text>
<text x="1235.3" y="544.8" textLength="27.8" lengthAdjust="spacingAndGlyphs">58.00</text>
</g>
<rect x="1227" y="156.800" width="37" height="19.600" fill="#131313"/>
<text x="1235.300" y="171.600" font-family="'Liberation Sans',sans-serif" font-size="11.500" font-weight="bold" fill="#fff" textLength="28" lengthAdjust="spacingAndGlyphs">79.37</text>
<rect x="1228" y="374" width="36" height="15" fill="#fff"/>
<text x="1235.300" y="385.400" font-family="'Liberation Sans',sans-serif" font-size="11.500" font-weight="bold" fill="#111" textLength="28" lengthAdjust="spacingAndGlyphs">67.12</text>
<g font-family="'Liberation Sans',sans-serif" font-size="11" fill="#404040" text-anchor="middle">
<text x="16" y="596" textLength="11.5" lengthAdjust="spacingAndGlyphs">15</text>
<text x="133.7" y="596" textLength="21.5" lengthAdjust="spacingAndGlyphs">Feb</text>
<text x="214.8" y="596" textLength="12" lengthAdjust="spacingAndGlyphs">14</text>
<text x="314" y="596" textLength="21" lengthAdjust="spacingAndGlyphs">Mar</text>
<text x="395.8" y="596" textLength="12" lengthAdjust="spacingAndGlyphs">14</text>
<text x="504.3" y="596" textLength="19.5" lengthAdjust="spacingAndGlyphs">Apr</text>
<text x="586" y="596" textLength="12" lengthAdjust="spacingAndGlyphs">14</text>
<text x="694.5" y="596" textLength="23" lengthAdjust="spacingAndGlyphs">May</text>
<text x="776" y="596" textLength="12" lengthAdjust="spacingAndGlyphs">14</text>
<text x="893.5" y="596" textLength="20.5" lengthAdjust="spacingAndGlyphs">Jun</text>
<text x="974.5" y="596" textLength="12" lengthAdjust="spacingAndGlyphs">13</text>
<text x="1083" y="596" textLength="18" lengthAdjust="spacingAndGlyphs">Jul</text>
<text x="1165.3" y="596" textLength="12" lengthAdjust="spacingAndGlyphs">14</text>
</g>
<path d="M813 579h70v20a2 2 0 0 1-2 2h-66a2 2 0 0 1-2-2z" fill="#131313"/>
<text x="848.5" y="595.3" font-family="'Liberation Sans',sans-serif" font-size="11.500" font-weight="bold" fill="#fff" text-anchor="middle" textLength="53.5" lengthAdjust="spacingAndGlyphs">26 May '25</text>
<path d="M1243.900 592.100l3.100-5.400h6.100l3.100 5.400l-3.100 5.400h-6.100z" fill="none" stroke="#333" stroke-width="1.100"/><circle cx="1250" cy="592.100" r="1.800" fill="none" stroke="#333" stroke-width="1.100"/>
</svg></body></html>
